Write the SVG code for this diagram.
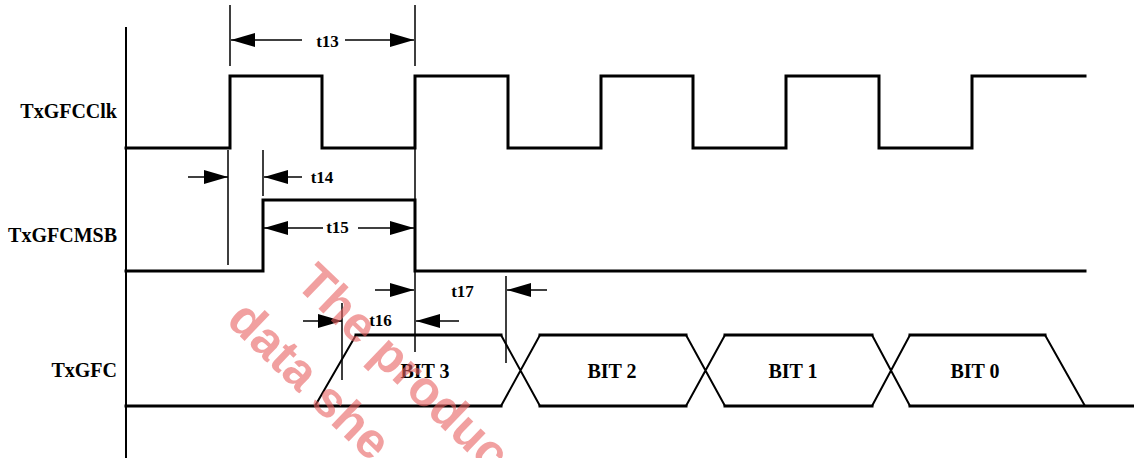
<svg xmlns="http://www.w3.org/2000/svg" width="1134" height="458" viewBox="0 0 1134 458">
<defs>
<marker id="ah" viewBox="0 0 24 14" refX="24" refY="7" markerWidth="24" markerHeight="14" markerUnits="userSpaceOnUse" orient="auto"><path d="M0,0 L24,7 L0,14 Z" fill="#000"/></marker>
</defs>
<style>
.sig{fill:none;stroke:#000;stroke-width:3;stroke-linejoin:miter;stroke-linecap:square}
.thin{fill:none;stroke:#000;stroke-width:1.5}
.diag{fill:none;stroke:#000;stroke-width:2}
.dim{fill:none;stroke:#000;stroke-width:1.5;marker-end:url(#ah)}
.lbl{font-family:"Liberation Serif","Times New Roman",serif;font-weight:bold;font-size:20px;fill:#000}
.tl{font-family:"Liberation Serif","Times New Roman",serif;font-weight:bold;font-size:17px;fill:#000;text-anchor:middle}
.bit{font-family:"Liberation Serif","Times New Roman",serif;font-weight:bold;font-size:20px;fill:#000;text-anchor:middle}
.wm{font-family:"Liberation Sans",Arial,sans-serif;font-weight:bold;font-size:50px;fill:#e86060;fill-opacity:0.6}
</style>
<rect width="1134" height="458" fill="#fff"/>
<line x1="126" y1="27" x2="126" y2="458" stroke="#000" stroke-width="2"/>
<g id="TxGFCClk">
<text class="lbl" x="117" y="118" text-anchor="end">TxGFCClk</text>
<path class="sig" d="M126,148 H230 V76 H322 V148 H415 V76 H508 V148 H601 V76 H693 V148 H786 V76 H879 V148 H972 V76 H1085"/>
</g>
<g id="TxGFCMSB">
<text class="lbl" x="117" y="242" text-anchor="end">TxGFCMSB</text>
<path class="sig" d="M126,271 H263 V200 H415 V271 H1085"/>
</g>
<g id="TxGFC">
<text class="lbl" x="117" y="377" text-anchor="end">TxGFC</text>
<path class="sig" d="M126,406 H501 M540,406 H686 M725,406 H872 M910,406 H1133 M356,335 H501 M540,335 H686 M725,335 H872 M910,335 H1045"/>
<path class="diag" d="M315,406 L356,335 M501,335 L540,406 M501,406 L540,335 M686,335 L725,406 M686,406 L725,335 M872,335 L910,406 M872,406 L910,335 M1045,335 L1085,406"/>
<text class="bit" x="425" y="378">BIT 3</text>
<text class="bit" x="612" y="378">BIT 2</text>
<text class="bit" x="793" y="378">BIT 1</text>
<text class="bit" x="975" y="378">BIT 0</text>
</g>
<g id="connectors">
<path class="thin" d="M230,5 V66 M415,5 V66 M228,150 V265 M263,150 V196 M415,148 V352 M506,276 V363 M342,303 V380"/>
<line class="dim" x1="302" y1="40" x2="231" y2="40"/>
<line class="dim" x1="345" y1="40" x2="414" y2="40"/>
<text class="tl" x="327.5" y="47">t13</text>
<line class="dim" x1="188" y1="177" x2="228" y2="177"/>
<line class="dim" x1="302" y1="177" x2="264" y2="177"/>
<text class="tl" x="322" y="183">t14</text>
<line class="dim" x1="323" y1="228" x2="264" y2="228"/>
<line class="dim" x1="358" y1="228" x2="414" y2="228"/>
<text class="tl" x="337.5" y="233">t15</text>
<line class="dim" x1="375" y1="290" x2="414" y2="290"/>
<line class="dim" x1="547" y1="290" x2="507" y2="290"/>
<text class="tl" x="462.5" y="297">t17</text>
<line class="dim" x1="303" y1="321" x2="342" y2="321"/>
<line class="dim" x1="459" y1="321" x2="416" y2="321"/>
<text class="tl" x="380.5" y="326">t16</text>
</g>
<g id="watermark">
<text class="wm" transform="translate(294,285) rotate(44)">The produc</text>
<text class="wm" transform="translate(225,322) rotate(44)">data she</text>
</g>
</svg>
